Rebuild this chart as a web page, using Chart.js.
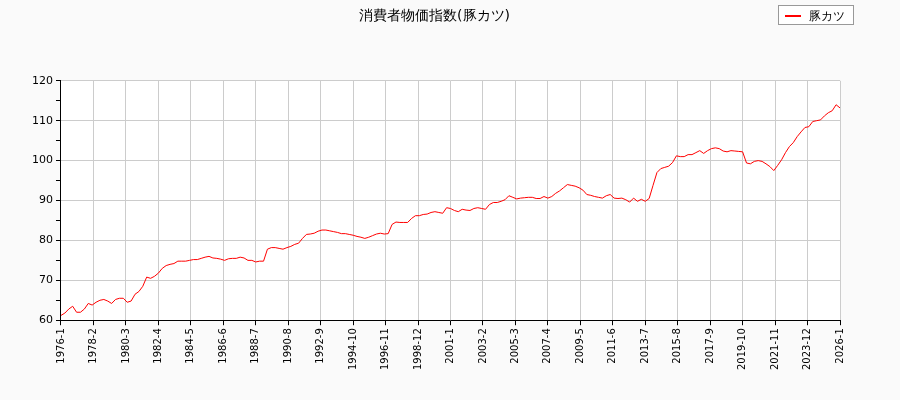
<!DOCTYPE html>
<html>
<head>
<meta charset="utf-8">
<script src="https://cdn.jsdelivr.net/npm/chart.js@4"></script>
<style>
  body { margin: 0; background: #fafafa; font-family: "DejaVu Sans", sans-serif; }
  #wrap { position: relative; width: 900px; height: 400px; }
  #legend { position: absolute; left: 778px; top: 5px; width: 76px; height: 20px; border: 1px solid #999; background: #fff;
            font-size: 12px; line-height: 20px; box-sizing: border-box; }
  #legend span.line { position: absolute; left: 6px; top: 9px; width: 16px; height: 2px; background: red; }
  #legend span.txt { position: absolute; left: 30px; top: 0; }
</style>
</head>
<body>
<div id="wrap">
  <canvas id="c" width="900" height="400"></canvas>
  <div id="legend"><span class="line"></span><span class="txt">豚カツ</span></div>
</div>
<script>
const title = '消費者物価指数(豚カツ)';
const seriesName = '豚カツ';
const startYear = 1976;
// month index from 1976-1, sampled every 3 months
const months = [];
for (let m = 0; m <= 600; m += 3) months.push(m);
const values = [
  61.2, 61.8, 62.8, 63.5, 62.0, 62.0, 62.8, 64.2, 63.8,
  64.5, 65.0, 65.2, 64.8, 64.2, 65.2, 65.5, 65.5, 64.5,
  64.8, 66.5, 67.2, 68.5, 70.8, 70.5, 71.0, 71.8, 73.0,
  73.7, 74.0, 74.2, 74.8, 74.8, 74.8, 75.0, 75.2, 75.2,
  75.5, 75.8, 76.0, 75.6, 75.5, 75.3, 75.0, 75.4, 75.5,
  75.5, 75.8, 75.6, 75.0, 75.0, 74.6, 74.8, 74.8, 77.8,
  78.2, 78.2, 78.0, 77.8, 78.2, 78.5, 79.0, 79.3, 80.5,
  81.5, 81.6, 81.8, 82.3, 82.6, 82.6, 82.4, 82.2, 82.0,
  81.7, 81.7, 81.5, 81.3, 81.0, 80.8, 80.5, 80.8, 81.2,
  81.6, 81.8, 81.6, 81.7, 84.0, 84.6, 84.5, 84.5, 84.5,
  85.5, 86.2, 86.2, 86.5, 86.6, 87.0, 87.2, 87.0, 86.8,
  88.2, 88.0, 87.5, 87.2, 87.8, 87.6, 87.5, 88.0, 88.2,
  88.0, 87.8, 89.0, 89.5, 89.5, 89.8, 90.2, 91.2, 90.8,
  90.4, 90.6, 90.7, 90.8, 90.8, 90.5, 90.5, 91.0, 90.6,
  91.0, 91.8, 92.4, 93.2, 94.0, 93.8, 93.6, 93.2, 92.6,
  91.5, 91.3, 91.0, 90.8, 90.6, 91.2, 91.5, 90.6, 90.5,
  90.6, 90.2, 89.6, 90.6, 89.8, 90.3, 89.8, 90.5, 93.8,
  97.0, 98.0, 98.3, 98.6, 99.5, 101.2, 101.0, 101.0, 101.5,
  101.5, 102.0, 102.5, 101.8, 102.5, 103.0, 103.2, 103.0, 102.4,
  102.2, 102.5, 102.4, 102.3, 102.2, 99.4, 99.2, 99.8, 100.0,
  99.8, 99.2, 98.5, 97.5, 98.8, 100.2, 102.0, 103.5, 104.5,
  106.0, 107.2, 108.3, 108.5, 109.8, 110.0, 110.2, 111.2, 112.0,
  112.5, 114.0, 113.2
];
const yTicks = [60, 70, 80, 90, 100, 110, 120];

function monthLabel(m) {
  return (startYear + Math.floor(m / 12)) + '-' + (m % 12 + 1);
}

new Chart(document.getElementById('c'), {
  type: 'line',
  data: {
    datasets: [{
      label: seriesName,
      data: months.map((m, i) => ({ x: m, y: values[i] })),
      borderColor: '#ff0000',
      borderWidth: 1,
      pointRadius: 0,
      tension: 0
    }]
  },
  options: {
    responsive: false,
    animation: false,
    layout: { padding: { top: 0, right: 60, left: 29, bottom: 27 } },
    plugins: {
      legend: { display: false },
      title: { display: true, text: title, color: '#000', padding: { top: 8, bottom: 56 },
               font: { family: 'DejaVu Sans', size: 14, weight: 'normal' } },
      tooltip: { enabled: false }
    },
    scales: {
      x: {
        type: 'linear', min: 0, max: 600,
        afterBuildTicks: ax => { ax.ticks = []; for (let m = 0; m <= 600; m += 25) ax.ticks.push({ value: m }); },
        ticks: { callback: v => monthLabel(v), maxRotation: 90, minRotation: 90, color: '#000',
                 font: { family: 'DejaVu Sans', size: 10 }, autoSkip: false },
        grid: { color: '#cccccc', tickColor: '#000', tickLength: 5 },
        border: { color: '#000' }
      },
      y: {
        min: 60, max: 120,
        afterBuildTicks: ax => { ax.ticks = []; for (let v = 60; v <= 120; v += 5) ax.ticks.push({ value: v }); },
        ticks: { callback: v => yTicks.includes(v) ? v : '', color: '#000',
                 font: { family: 'DejaVu Sans', size: 11 } },
        grid: { color: c => c.tick && c.tick.value % 10 === 0 ? '#cccccc' : 'rgba(0,0,0,0)',
                tickColor: '#000', tickLength: 5 },
        border: { color: '#000' }
      }
    }
  },
  plugins: [{
    id: 'bg',
    beforeDraw(chart) {
      const a = chart.chartArea, ctx = chart.ctx;
      ctx.save(); ctx.fillStyle = '#fff';
      ctx.fillRect(a.left, a.top, a.right - a.left, a.bottom - a.top);
      ctx.restore();
    }
  }]
});
</script>
</body>
</html>
